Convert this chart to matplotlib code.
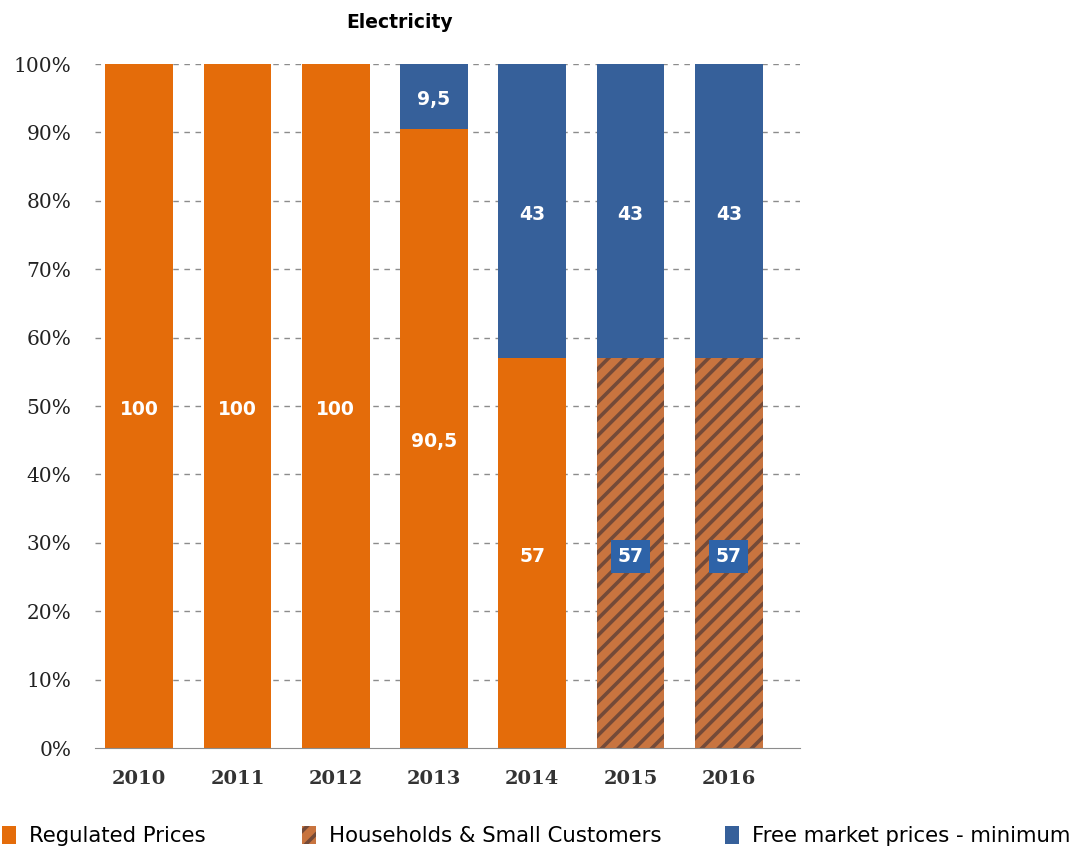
import matplotlib.pyplot as plt
import matplotlib as mpl

# dados do grafico
anos = ['2010', '2011', '2012', '2013', '2014', '2015', '2016']
regulados = [100, 100, 100, 90.5, 57, 0, 0]
residencias = [0, 0, 0, 0, 0, 57, 57]
livre = [0, 0, 0, 9.5, 43, 43, 43]
rot_regulados = ['100', '100', '100', '90,5', '57', '', '']
rot_residencias = ['', '', '', '', '', '57', '57']
rot_livre = ['', '', '', '9,5', '43', '43', '43']

laranja = '#E46C0A'
azul = '#36609A'
marrom = '#C8743F'

mpl.rcParams['hatch.color'] = '#744A38'
mpl.rcParams['hatch.linewidth'] = 2.6

fig = plt.figure(figsize=(10.84, 8.5), dpi=100)
ax = fig.add_axes([0.0876, 0.12, 0.650, 0.8047])

x = range(len(anos))
larg = 0.69
b1 = ax.bar(x, regulados, larg, color=laranja, zorder=2, label='Regulated Prices')
b2 = ax.bar(x, residencias, larg, bottom=regulados, facecolor=marrom,
            edgecolor='#744A38', linewidth=0, hatch='//', zorder=2,
            label='Households & Small Customers')
base = [r + h for r, h in zip(regulados, residencias)]
b3 = ax.bar(x, livre, larg, bottom=base, color=azul, zorder=2,
            label='Free market prices - minimum')

# rotulos brancos no meio de cada segmento
for i in x:
    if rot_regulados[i]:
        ax.text(i, regulados[i] / 2 - 0.5, rot_regulados[i], ha='center', va='center',
                color='white', fontsize=13.5, fontweight='bold', zorder=4)
    if rot_residencias[i]:
        ax.text(i, regulados[i] + residencias[i] / 2 - 0.5, rot_residencias[i],
                ha='center', va='center', color='white', fontsize=13.5, fontweight='bold',
                zorder=4, bbox=dict(boxstyle='square,pad=0.35', fc='#2E63A8', ec='none'))
    if rot_livre[i]:
        ax.text(i, base[i] + livre[i] / 2 - 0.5, rot_livre[i], ha='center', va='center',
                color='white', fontsize=13.5, fontweight='bold', zorder=4)

ax.set_xlim(-0.45, 6.72)
ax.set_ylim(0, 100)
ax.set_yticks(range(0, 101, 10))
ax.set_yticklabels([f'{v}%' for v in range(0, 101, 10)], fontsize=14.5,
                   family='DejaVu Serif', color='#222222')
ax.set_xticks(list(x))
ax.set_xticklabels(anos, fontsize=14, family='DejaVu Serif', fontweight='bold', color='#333333')
ax.tick_params(axis='y', length=0, pad=17)
ax.tick_params(axis='x', length=0, pad=16)
ax.grid(axis='y', linestyle=(0, (4, 4)), color='#8C8C8C', linewidth=1, zorder=1)
ax.yaxis.get_gridlines()[0].set_visible(False)
for s in ['left', 'right', 'top']:
    ax.spines[s].set_visible(False)
ax.spines['bottom'].set_color('#8C8C8C')
ax.spines['bottom'].set_zorder(3)

fig.text(0.369, 0.973, 'Electricity', ha='center', va='center', fontsize=13.5,
         fontweight='bold')

# legenda: tres blocos separados, como no original
posicoes = [0.002, 0.2786, 0.669]
for h, px in zip([b1, b2, b3], posicoes):
    fig.legend(handles=[h], loc='center left', bbox_to_anchor=(px, 0.016),
               frameon=False, fontsize=15.3, handlelength=0.65, handleheight=0.9,
               handletextpad=0.6, borderaxespad=0, borderpad=0)

fig.savefig('out.png', dpi=100)
